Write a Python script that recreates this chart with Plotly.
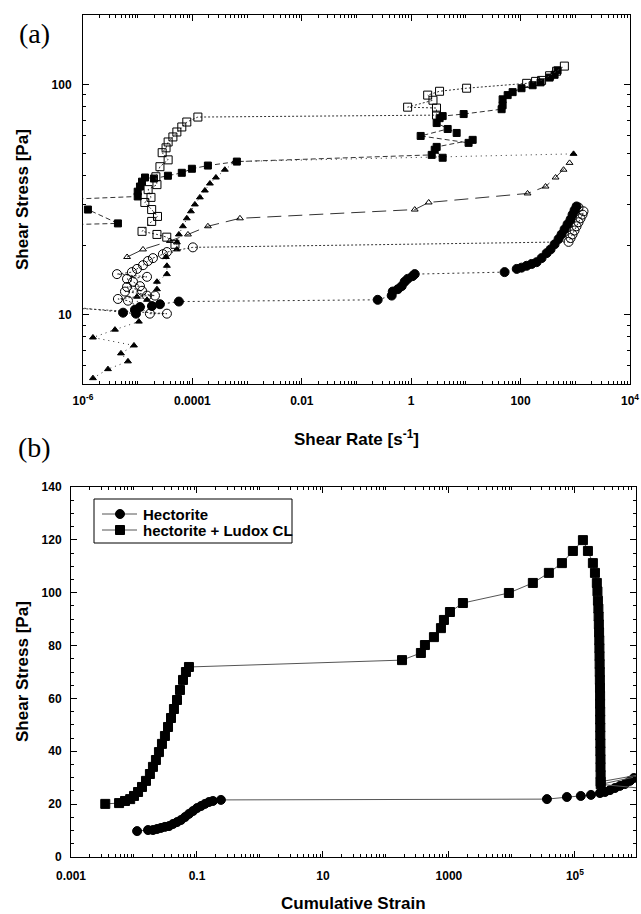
import numpy as np
import plotly.graph_objects as go

# ---------------- panel (a): shear stress vs shear rate ----------------
# open squares
osq_x = [4.8e-5, 3.4e-5, 2.25e-5, 1.2e-5, 1.8e-5, 2.3e-5, 1.8e-5, 1.35e-5, 1.75e-5, 1.55e-5,
         2.25e-5, 2.15e-5, 2.55e-5, 3.6e-5, 2.8e-5, 3.3e-5, 3.6e-5, 4.4e-5, 5.2e-5, 6.4e-5,
         7.9e-5, 1.26e-4, 2.9, 2.9, 0.86, 2.5, 2.0, 3.3, 10.3, 129, 188, 242, 339, 455, 631]
osq_y = [20.2, 21.7, 22.3, 23.0, 25.4, 26.7, 28.6, 30.7, 32.3, 34.9,
         36.7, 39.7, 43.9, 47.0, 50.5, 53.0, 56.2, 59.1, 62.1, 65.3,
         68.6, 72.1, 73.5, 78.9, 79.6, 85.3, 89.8, 93.3, 96.2, 101, 103, 104, 109, 114, 120]

# filled squares
fsq_x = [3e-7, 1.0e-5, 1.0e-5, 1.1e-5, 1.2e-5, 1.36e-5, 1.98e-5, 3.57e-5, 6.4e-5, 9.8e-5,
         1.92e-4, 6.5e-4, 2.37, 3.76, 2.69, 2.92, 13.3, 11.2, 1.49, 4.64, 6.78, 2.92, 3.31,
         3.76, 9.1, 45, 46.9, 46.9, 58, 71.5, 104, 166, 232, 339, 418, 474]
fsq_y = [31.5, 32.6, 34.2, 36.0, 37.8, 39.4, 39.0, 40.1, 41.3, 43.0,
         44.4, 46.2, 49.4, 48.0, 52.0, 53.5, 57.4, 55.7, 59.7, 64.0, 61.5, 67.9, 71.3,
         72.8, 74.3, 78.0, 81.1, 86.1, 89.8, 92.5, 96.2, 99.1, 102, 107, 110, 115]
fsq2_x = [3e-7, 4.35e-6, 1.23e-6]
fsq2_y = [24.5, 24.9, 28.6]

# filled triangles
ftri_x = [1.52e-6, 2.86e-6, 6.64e-6, 4.94e-6, 8.55e-6, 1.52e-6, 3.84e-6, 1.05e-5, 9.7e-6, 1.48e-5,
          2.25e-5, 2.25e-5, 3.42e-5, 3.42e-5, 3.28e-5, 5.2e-5, 5.2e-5, 5.66e-5, 6.7e-5, 7.9e-5,
          9.4e-5, 1.11e-4, 1.37e-4, 1.69e-4, 2.09e-4, 2.69e-4, 3.92e-4, 5.97e-4, 929]
ftri_y = [5.30, 5.80, 6.27, 6.79, 7.35, 7.96, 8.61, 9.33, 11.97, 11.6,
          12.9, 13.9, 15.0, 16.3, 17.8, 19.2, 20.6, 22.3, 24.2, 26.2,
          28.1, 30.1, 32.3, 34.6, 37.1, 39.4, 42.6, 46.2, 49.9]

# open triangles
otri_x = [6.4e-6, 1.25e-5, 3.9e-5, 8.3e-5, 1.92e-4, 7.4e-4, 1.16, 2.09, 134, 286, 436, 610, 785]
otri_y = [17.8, 19.2, 20.9, 22.3, 24.2, 26.2, 28.6, 30.7, 33.6, 36.0, 39.4, 42.6, 45.6]

# open circles
ocir_x = [3e-7, 3.42e-5, 1.67e-5, 6.64e-6, 4.35e-6, 1.48e-5, 2.07e-5, 5.85e-6, 1.2e-5, 6.37e-6,
          1.1e-5, 8.2e-6, 6.37e-6, 1.48e-5, 4.18e-6, 7.85e-6, 9.7e-6, 1.25e-5, 1.54e-5, 1.9e-5,
          2.89e-5, 3.42e-5, 1.02e-4, 753, 819, 891, 969, 1054, 1146, 1247, 1356, 1413, 1146]
ocir_y = [10.8, 10.1, 10.1, 11.5, 11.7, 12.1, 12.1, 12.6, 12.7, 13.2,
          13.3, 13.9, 14.3, 14.6, 15.0, 15.3, 15.8, 16.4, 17.1, 17.6,
          18.3, 18.7, 19.6, 20.7, 21.5, 22.3, 23.2, 24.2, 25.2, 26.2, 27.2, 28.1, 29.2]

# filled circles
fcir_x = [3e-7, 5.4e-6, 9.3e-6, 8.9e-6, 1.1e-5, 1.82e-5, 2.55e-5, 5.66e-5, 0.244, 0.44,
          0.46, 0.57, 0.67, 0.76, 0.86, 1.06, 1.16, 51, 85, 104, 129, 159, 196, 242, 299,
          353, 418, 494, 561, 637, 722, 819, 891, 969, 1054]
fcir_y = [11.0, 10.2, 10.1, 10.5, 10.8, 10.9, 11.1, 11.4, 11.6, 12.1,
          12.6, 12.9, 13.3, 13.9, 14.3, 14.7, 15.0, 15.3, 15.8, 16.0, 16.3, 16.6, 16.9, 17.6, 18.5,
          19.2, 20.2, 21.3, 22.3, 23.5, 24.7, 25.9, 27.2, 28.4, 29.5]

# ---------------- panel (b): shear stress vs cumulative strain ----------------
hec_x = [0.0112, 0.0167, 0.020, 0.0232, 0.0268, 0.031, 0.036, 0.0416, 0.0482, 0.0557,
         0.0645, 0.0746, 0.0865, 0.1, 0.116, 0.134, 0.155, 0.179, 0.24, 36000,
         74600, 124000, 180000, 250000, 300000, 360000, 432000, 518000, 622000, 747000, 865000]
hec_y = [9.8, 10.2, 10.2, 10.6, 11.0, 11.4, 11.7, 12.5, 13.2, 14.0,
         15.1, 16.3, 17.4, 18.5, 19.3, 20.1, 20.8, 21.2, 21.6, 21.9,
         22.7, 23.1, 23.5, 24.2, 24.6, 25.3, 26.1, 26.9, 27.6, 28.8, 29.9]

lud_x = [0.0035, 0.0058, 0.0072, 0.0087, 0.010, 0.0116, 0.0134, 0.0155, 0.0179, 0.020,
         0.0223, 0.0249, 0.0278, 0.031, 0.0347, 0.0387, 0.0431, 0.0482, 0.0537, 0.060,
         0.0668, 0.0746, 180, 359, 416, 578, 747, 833, 1038, 1667,
         8950, 21500, 38600, 62200, 92900, 134000, 161000, 193000, 208000, 223000,
         228000, 232000, 236000, 238000, 240000, 242000, 244000, 245000, 246000, 247000,
         248000, 249000, 250000, 251000, 251000, 252000, 252000, 253000, 253000, 254000,
         254000, 255000, 255000, 256000, 256000, 3e6, 257000, 3e6]
lud_y = [20.1, 20.4, 21.2, 21.9, 23.1, 24.6, 26.5, 28.8, 31.4, 34.1,
         36.7, 39.7, 42.8, 45.8, 49.2, 52.6, 56.0, 59.4, 63.2, 67.0,
         70.0, 71.9, 74.5, 77.2, 80.2, 83.2, 86.6, 89.7, 92.7, 96.1,
         99.9, 103.7, 107.5, 111.2, 115.8, 119.9, 115.8, 111.2, 107.5, 103.7,
         100.5, 97.0, 94.0, 91.0, 88.0, 85.0, 82.0, 79.0, 76.0, 73.0,
         70.0, 67.0, 64.0, 61.0, 58.0, 55.0, 52.0, 49.0, 46.0, 43.0,
         40.0, 37.0, 34.0, 31.0, 28.5, 33.0, 27.5, 25.0]

a_xticks = [1e-6, 1e-4, 1e-2, 1, 100, 1e4]
a_xlabels = ['10<sup>-6</sup>', '0.0001', '0.01', '1', '100', '10<sup>4</sup>']
b_xticks = [1e-3, 1e-1, 10, 1000, 1e5]
b_xlabels = ['0.001', '0.1', '10', '1000', '10<sup>5</sup>']
legend_names = ['Hectorite', 'hectorite + Ludox CL']

W, H = 641, 914
LINE = '#333333'


def px(x):
    return x / W


def py(y):
    return 1 - y / H


def minor_log(lo, hi, skip):
    vals = []
    for e in range(lo, hi + 1):
        for k in range(1, 10):
            v = k * 10.0 ** e
            if not any(abs(v - s) / s < 1e-9 for s in skip):
                vals.append(v)
    return vals


fig = go.Figure()


def add(x, y, symbol, size, dash, xa='x', ya='y', name=None, lw=1, color=LINE):
    fig.add_trace(go.Scatter(
        x=x, y=y, mode='lines+markers', xaxis=xa, yaxis=ya,
        name=name, showlegend=False,
        line=dict(color=color, width=lw, dash=dash),
        marker=dict(symbol=symbol, size=size, color='black',
                    line=dict(color='black', width=1)),
    ))


add(ftri_x, ftri_y, 'triangle-up', 6, '1px,4px')
add(otri_x, otri_y, 'triangle-up-open', 6, '14px,7px')
add(ocir_x, ocir_y, 'circle-open', 9, '2px,2px')
add(fcir_x, fcir_y, 'circle', 9, '2px,3px')
add(fsq_x, fsq_y, 'square', 7, '5px,3px')
add(fsq2_x, fsq2_y, 'square', 7, '5px,3px')
add(osq_x, osq_y, 'square-open', 8, '2px,2px')

add(hec_x, hec_y, 'circle', 9, 'solid', 'x2', 'y2', legend_names[0], 1, '#555555')
add(lud_x, lud_y, 'square', 9, 'solid', 'x2', 'y2', legend_names[1], 1, '#555555')

axis_common = dict(showline=True, linecolor='black', linewidth=1, mirror='allticks',
                   ticks='inside', ticklen=6, tickcolor='black', showgrid=False,
                   zeroline=False, automargin=False,
                   tickfont=dict(size=12, color='black', weight='bold'))

fig.update_layout(
    template='none',
    width=W, height=H,
    margin=dict(l=0, r=0, t=0, b=0, pad=0),
    paper_bgcolor='white', plot_bgcolor='white',
    font=dict(family='Liberation Sans, Arial, sans-serif', color='black'),
    showlegend=False,
    xaxis=dict(type='log', range=[-6, 4], domain=[px(83), px(630)], anchor='y',
               tickvals=a_xticks, ticktext=a_xlabels, ticklabelstandoff=6,
               ticklabeloverflow='allow',
               minor=dict(tickvals=minor_log(-6, 3, a_xticks), ticks='inside',
                          ticklen=3, tickcolor='black'),
               **axis_common),
    yaxis=dict(type='log', range=[np.log10(5), np.log10(200)],
               domain=[py(384), py(15)], anchor='x',
               tickvals=[10, 100], ticktext=['10', '100'], ticklabelstandoff=8,
               minor=dict(tickvals=[5, 6, 7, 8, 9, 20, 30, 40, 50, 60, 70, 80, 90, 200],
                          ticks='inside', ticklen=3, tickcolor='black'),
               **axis_common),
    xaxis2=dict(type='log', range=[-3, 5.97], domain=[px(71), px(636)], anchor='y2',
                tickvals=b_xticks, ticktext=b_xlabels, ticklabelstandoff=8,
                ticklabeloverflow='allow',
                minor=dict(tickvals=minor_log(-3, 5, b_xticks), ticks='inside',
                           ticklen=3, tickcolor='black'),
                **axis_common),
    yaxis2=dict(range=[0, 140], domain=[py(857), py(487)], anchor='x2',
                tick0=0, dtick=20, ticklabelstandoff=6,
                minor=dict(dtick=5, ticks='inside', ticklen=3, tickcolor='black'),
                **axis_common),
)

# legend box of panel (b), drawn as paper-space decoration
shapes = [
    dict(type='rect', x0=px(94), x1=px(292), y0=py(499), y1=py(543),
         line=dict(color='black', width=1), fillcolor='white', layer='above'),
    dict(type='line', x0=px(102), x1=px(137), y0=py(514), y1=py(514),
         line=dict(color='#555555', width=1), layer='above'),
    dict(type='circle', x0=px(115.5), x1=px(124.5), y0=py(518.5), y1=py(509.5),
         line=dict(color='black', width=1), fillcolor='black', layer='above'),
    dict(type='line', x0=px(102), x1=px(137), y0=py(530), y1=py(530),
         line=dict(color='#555555', width=1), layer='above'),
    dict(type='rect', x0=px(115.5), x1=px(124.5), y0=py(534.5), y1=py(525.5),
         line=dict(color='black', width=1), fillcolor='black', layer='above'),
]
for s in shapes:
    fig.add_shape(xref='paper', yref='paper', **s)

title_font = dict(size=17, color='black', weight='bold')
label_font = dict(family='Liberation Serif, Times New Roman, serif', size=28, color='black')
legend_font = dict(size=15, color='black', weight='bold')
annots = [
    dict(text='(a)', x=px(34), y=py(33), font=label_font),
    dict(text='(b)', x=px(34), y=py(448), font=label_font),
    dict(text='Shear Stress [Pa]', x=px(22), y=py(200), textangle=-90, font=title_font),
    dict(text='Shear Rate [s<sup>-1</sup>]', x=px(356), y=py(438), font=title_font),
    dict(text='Shear Stress [Pa]', x=px(22), y=py(672), textangle=-90, font=title_font),
    dict(text='Cumulative Strain', x=px(354), y=py(903), font=title_font),
    dict(text=legend_names[0], x=px(141), y=py(514), xanchor='left', font=legend_font),
    dict(text=legend_names[1], x=px(141), y=py(530), xanchor='left', font=legend_font),
]
for a in annots:
    a.setdefault('xanchor', 'center')
    fig.add_annotation(xref='paper', yref='paper', yanchor='middle',
                       showarrow=False, **a)

fig.write_html("out.html",
               config={'displayModeBar': False},
               post_script="document.body.style.margin='0';"
                           "document.body.style.overflow='hidden';")
